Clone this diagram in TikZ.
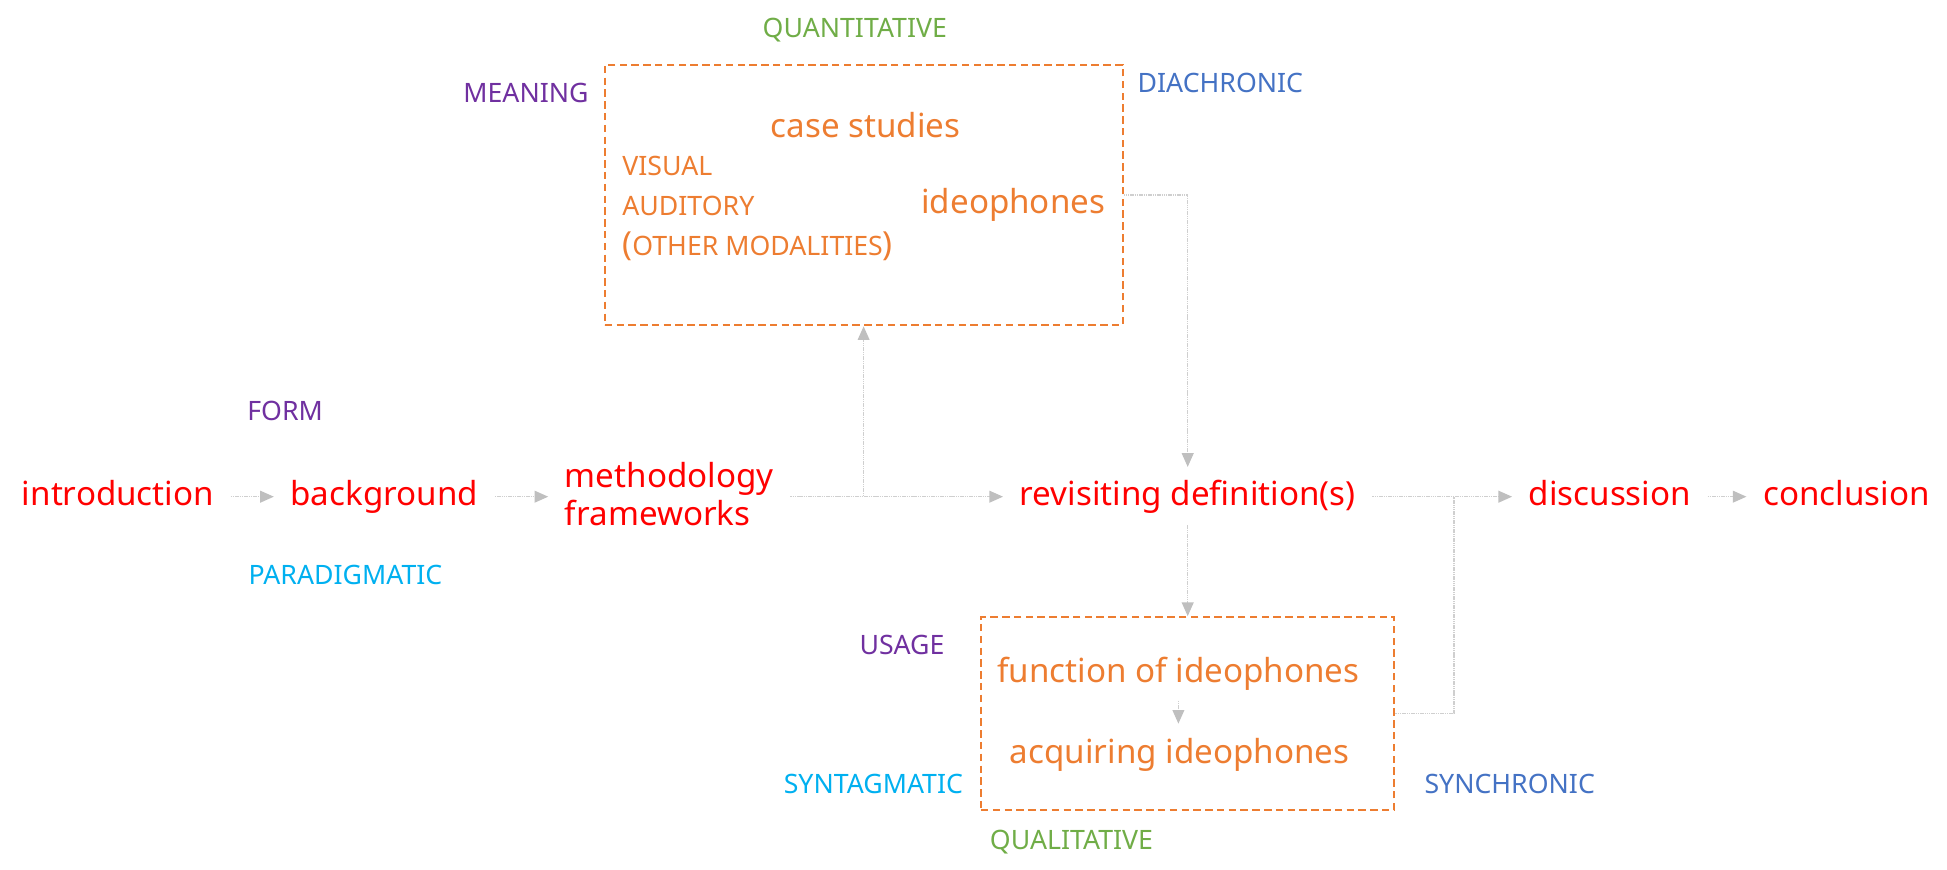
\documentclass[tikz,border=0pt]{standalone}
\usepackage{fontspec}
\setmainfont{Noto Sans}
\usetikzlibrary{arrows.meta}
\definecolor{redtxt}{HTML}{FF0000}
\definecolor{orng}{HTML}{ED7D31}
\definecolor{grn}{HTML}{70AD47}
\definecolor{purp}{HTML}{7030A0}
\definecolor{cyn}{HTML}{00B0F0}
\definecolor{blu}{HTML}{4472C4}
\definecolor{arrgray}{HTML}{BFBFBF}
\definecolor{linegray}{HTML}{CFCFCF}
\newcommand\szA{\fontsize{26.7}{31}\selectfont}
\newcommand\szB{\fontsize{21.5}{26}\selectfont}
\begin{document}
\begin{tikzpicture}[x=1pt,y=-1pt,
  mainnode/.style={font=\szA, text=redtxt, inner sep=0pt, outer xsep=13.5pt, outer ysep=0pt, text height=20pt, text depth=6pt},
  innode/.style={font=\szA, text=orng, inner sep=0pt, text height=20pt, text depth=6pt},
  smalltxt/.style={font=\szB, inner sep=0pt, anchor=base west},
  dbox/.style={draw=orng, line width=1.6pt, dash pattern=on 6pt off 3.5pt, inner sep=0pt},
  conn/.style={draw=linegray, line width=1.1pt, dash pattern=on 1.2pt off 0.6pt,
     -{Triangle[length=11pt,width=9.5pt,color=arrgray]}},
  plain/.style={draw=linegray, line width=1.1pt, dash pattern=on 1.2pt off 0.6pt}
]
\useasboundingbox (0,0) rectangle (1568,700.6);

% boxes
\node[dbox, minimum width=417pt, minimum height=210pt] (box1) at (695.5,157) {};
\node[dbox, minimum width=333pt, minimum height=155pt] (box2) at (956.5,574.5) {};

% main row
\node[mainnode] (intro) at (95,400) {introduction};
\node[mainnode] (backgr) at (309.5,400) {background};
\node[font=\szA, text=redtxt, inner sep=0pt, outer xsep=13.5pt, align=left, anchor=west] (meth) at (441.5,398) {methodology\\frameworks};
\node[mainnode] (rev) at (956.5,400) {revisiting definition(s)};
\node[mainnode] (disc) at (1296.5,400) {discussion};
\node[mainnode] (concl) at (1487,400) {conclusion};

% inside box 1
\node[innode] (case) at (697,104) {case studies};
\node[innode] (ideo) at (816,165) {ideophones};
\node[smalltxt, text=orng] (vis) at (501,141) {VISUAL};
\node[smalltxt, text=orng] (aud) at (501,173.5) {AUDITORY};
\node[smalltxt, text=orng] (oth) at (501,205.5) {{\szA(}OTHER MODALITIES{\szA)}};

% inside box 2
\node[innode] (func) at (949,543) {function of ideophones};
\node[innode] (acq) at (950,608) {acquiring ideophones};

% labels
\node[smalltxt, text=grn] (quant) at (614,30.5) {QUANTITATIVE};
\node[smalltxt, text=purp] (mean) at (373,82.5) {MEANING};
\node[smalltxt, text=blu] (diach) at (916,74.5) {DIACHRONIC};
\node[smalltxt, text=purp] (form) at (199,339) {FORM};
\node[smalltxt, text=cyn] (parad) at (200,471) {PARADIGMATIC};
\node[smalltxt, text=purp] (usage) at (692,527) {USAGE};
\node[smalltxt, text=cyn] (synt) at (631,639) {SYNTAGMATIC};
\node[smalltxt, text=blu] (sync) at (1147,639) {SYNCHRONIC};
\node[smalltxt, text=grn] (qual) at (797,684) {QUALITATIVE};

\coordinate (join) at (1171,400);

% connectors
\draw[conn] (intro) -- (backgr);
\draw[conn] (backgr.east) -- (backgr.east -| meth.west);
\draw[conn] (meth.east |- rev.west) -- (rev.west);
\draw[conn] (meth.east |- rev.west) -| (box1.south);
\draw[conn] (box1.east) -| ([yshift=11pt]rev.north);
\draw[conn] ([yshift=-10pt]rev.south) -- (rev.south |- box2.north);
\draw[conn] ([yshift=-8pt]func.south) -- ([yshift=12pt]func.south |- acq.north);
\draw[conn] (rev) -- (disc);
\draw[plain] (box2.east) -| (join);
\draw[conn] (disc) -- (concl);
\end{tikzpicture}
\end{document}
